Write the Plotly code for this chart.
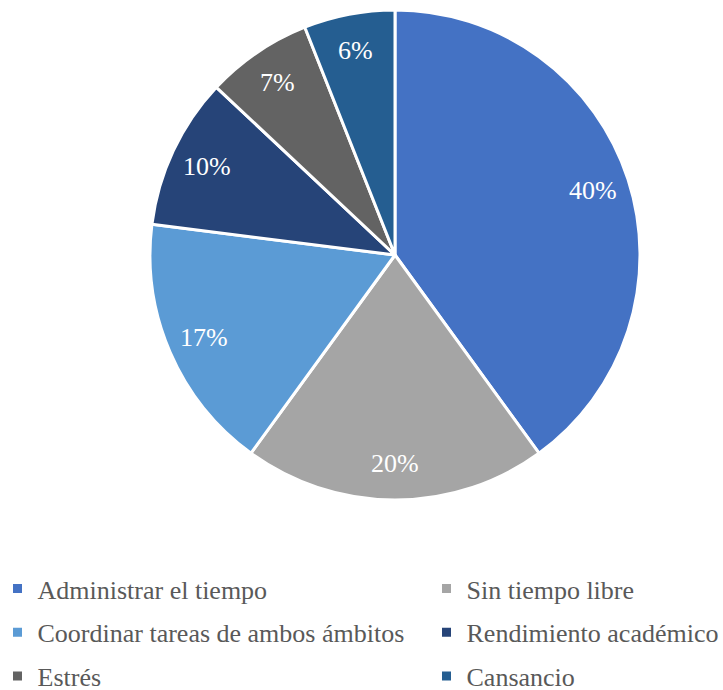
import math
import plotly.graph_objects as go

labels = ["Administrar el tiempo", "Sin tiempo libre", "Coordinar tareas de ambos ámbitos",
          "Rendimiento académico", "Estrés", "Cansancio"]
values = [40, 20, 17, 10, 7, 6]
colors = ["#4472C4", "#A5A5A5", "#5B9BD5", "#264478", "#636363", "#255E91"]
# legend layout: two columns, row-major as in the original
legend_col = [1, 2, 1, 2, 1, 2]

W, H = 723, 690
cx, cy, r = 395, 255, 245
label_frac = 0.85
FONT = "Times New Roman, Liberation Serif, DejaVu Serif, serif"

fig = go.Figure()
fig.add_trace(go.Pie(
    labels=labels,
    values=values,
    sort=False,
    direction="clockwise",
    rotation=0,
    marker=dict(colors=colors, line=dict(color="white", width=3)),
    textinfo="none",
    hoverinfo="label+percent",
    showlegend=False,
    domain=dict(x=[(cx - r) / W, (cx + r) / W], y=[1 - (cy + r) / H, 1 - (cy - r) / H]),
))

# percentage labels placed at slice mid-angles (computed from the values)
total = sum(values)
cum = 0
annotations = []
for v in values:
    mid = (cum + v / 2) / total * 2 * math.pi
    cum += v
    px = cx + label_frac * r * math.sin(mid)
    py = cy - label_frac * r * math.cos(mid)
    annotations.append(dict(
        x=px / W, y=1 - py / H, xref="paper", yref="paper",
        text=f"{round(v / total * 100)}%", showarrow=False,
        font=dict(family=FONT, size=26, color="white"),
        xanchor="center", yanchor="middle",
    ))

# legend entries (dummy traces so the two-column layout can be reproduced)
for i, (lab, col, c) in enumerate(zip(labels, legend_col, colors)):
    fig.add_trace(go.Scatter(
        x=[None], y=[None], mode="markers", name=lab,
        marker=dict(symbol="square", size=9, color=c),
        legend="legend" if col == 1 else "legend2",
        legendgroup=f"g{i}", hoverinfo="skip",
    ))

leg_common = dict(
    orientation="v", yanchor="top", xanchor="left",
    font=dict(family=FONT, size=26, color="#595959"),
    tracegroupgap=7, itemsizing="trace", bgcolor="rgba(0,0,0,0)",
    traceorder="grouped",
)

fig.update_layout(
    width=W, height=H,
    margin=dict(l=0, r=0, t=0, b=0, autoexpand=False),
    paper_bgcolor="white",
    plot_bgcolor="white",
    showlegend=True,
    xaxis=dict(visible=False),
    yaxis=dict(visible=False),
    annotations=annotations,
    legend=dict(x=-2.5 / W, y=1 - 565 / H, **leg_common),
    legend2=dict(x=426.5 / W, y=1 - 565 / H, **leg_common),
)

fig.write_html("out.html", config={"displayModeBar": False},
               post_script="document.body.style.margin='0';")
